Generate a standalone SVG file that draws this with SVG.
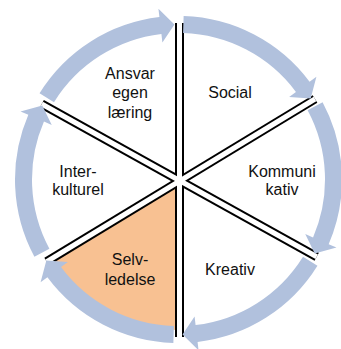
<svg xmlns="http://www.w3.org/2000/svg" xmlns:xlink="http://www.w3.org/1999/xlink" width="341" height="349" viewBox="0 0 341 349">
<style>
.lbl{font-family:"Liberation Sans",Arial,sans-serif;font-size:16px;fill:#111;text-anchor:middle}
.blk{stroke:#000;stroke-width:9;fill:none}
.wht{stroke:#fff;stroke-width:5;fill:none}
.arr{fill:#B1C1DD}
</style>
<defs>
<path id="arrow" class="arr" d="M5.14 -163.42 A163.5 163.5 0 0 1 131.09 -97.71 L137.91 -102.79 L132.16 -80.99 L110.65 -82.47 L117.46 -87.55 A146.5 146.5 0 0 0 4.60 -146.43 Z"/>
</defs>
<rect width="341" height="349" fill="#fff"/>
<g id="selvledelse-bg">
<path d="M179.5 180 L179.5 330 A150 150 0 0 1 49.6 255 Z" fill="#F8C192"/>
</g>
<g id="dividers">
<line class="blk" x1="179.5" y1="23" x2="179.5" y2="337"/>
<line class="blk" x1="41.7" y1="104" x2="316.7" y2="256.7"/>
<line class="blk" x1="46.7" y1="261.7" x2="315" y2="99"/>
<line class="wht" x1="179.5" y1="23" x2="179.5" y2="337"/>
<line class="wht" x1="41.7" y1="104" x2="316.7" y2="256.7"/>
<line class="wht" x1="46.7" y1="261.7" x2="315" y2="99"/>
</g>
<g id="connectors">
<use xlink:href="#arrow" transform="translate(178.5 179.5) rotate(0)"/>
<use xlink:href="#arrow" transform="translate(178.5 179.5) rotate(60)"/>
<use xlink:href="#arrow" transform="translate(178.5 179.5) rotate(120)"/>
<use xlink:href="#arrow" transform="translate(178.5 179.5) rotate(180)"/>
<use xlink:href="#arrow" transform="translate(178.5 179.5) rotate(240)"/>
<use xlink:href="#arrow" transform="translate(178.5 179.5) rotate(300)"/>
</g>
<g id="ansvar">
<text class="lbl" x="130" y="79">Ansvar</text>
<text class="lbl" x="130" y="98">egen</text>
<text class="lbl" x="130" y="117.5">læring</text>
</g>
<g id="social">
<text class="lbl" x="230" y="98">Social</text>
</g>
<g id="interkulturel">
<text class="lbl" x="78" y="176.5">Inter-</text>
<text class="lbl" x="78" y="195">kulturel</text>
</g>
<g id="kommunikativ">
<text class="lbl" x="282" y="176.5">Kommuni</text>
<text class="lbl" x="282" y="195">kativ</text>
</g>
<g id="selvledelse">
<text class="lbl" x="130" y="265">Selv-</text>
<text class="lbl" x="130" y="284.5">ledelse</text>
</g>
<g id="kreativ">
<text class="lbl" x="230" y="275">Kreativ</text>
</g>
</svg>
